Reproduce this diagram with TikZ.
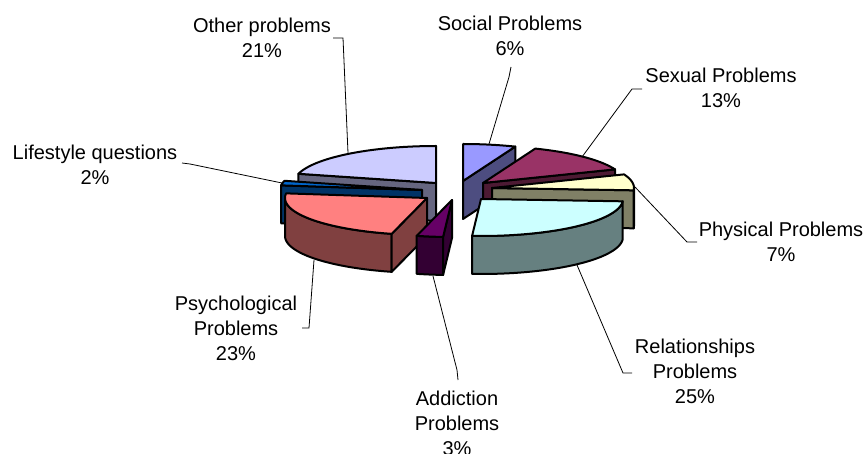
\documentclass[tikz,border=0pt]{standalone}
\usepackage{fontspec}
\setmainfont{Liberation Sans}
\definecolor{OtherTop}{HTML}{CCCCFF}\definecolor{OtherSide}{HTML}{666680}
\definecolor{LifeTop}{HTML}{0066CC}\definecolor{LifeSide}{HTML}{003366}
\definecolor{PsyTop}{HTML}{FF8080}\definecolor{PsySide}{HTML}{804040}
\definecolor{AddTop}{HTML}{660066}\definecolor{AddSide}{HTML}{330033}
\definecolor{SocTop}{HTML}{9999FF}\definecolor{SocSide}{HTML}{4D4D80}
\definecolor{SexTop}{HTML}{993366}\definecolor{SexSide}{HTML}{4D1A33}
\definecolor{PhyTop}{HTML}{FFFFCC}\definecolor{PhySide}{HTML}{808066}
\definecolor{RelTop}{HTML}{CCFFFF}\definecolor{RelSide}{HTML}{668080}
\newcommand\pieRx{142}
\newcommand\pieRy{37}
\newcommand\pieH{38}
% top face of a slice: centre x, centre y, start angle, end angle, colour
\newcommand\TopFace[5]{%
  \filldraw[pieface, fill=#5] (#1,#2) -- plot[domain=#3:#4, samples=60] ({#1+\pieRx*cos(\x)},{#2-\pieRy*sin(\x)}) -- cycle;}
% outer curved side
\newcommand\SideBand[5]{%
  \filldraw[pieface, fill=#5] plot[domain=#3:#4, samples=60] ({#1+\pieRx*cos(\x)},{#2-\pieRy*sin(\x)}) -- plot[domain=#4:#3, samples=60] ({#1+\pieRx*cos(\x)},{#2+\pieH-\pieRy*sin(\x)}) -- cycle;}
% radial cut face
\newcommand\CutFace[4]{%
  \filldraw[pieface, fill=#4] (#1,#2) -- ({#1+\pieRx*cos(#3)},{#2-\pieRy*sin(#3)}) -- ({#1+\pieRx*cos(#3)},{#2+\pieH-\pieRy*sin(#3)}) -- (#1,{#2+\pieH}) -- cycle;}
\tikzset{
  pieface/.style={line width=2pt, line join=round, draw=black},
  lead/.style={line width=0.8pt, draw=black},
  lbl/.style={align=center, inner sep=0pt, anchor=north, font=\fontsize{20}{25.3}\selectfont},
}
\begin{document}
\begin{tikzpicture}[x=1pt,y=-1pt]
\useasboundingbox (0,0) rectangle (868,454);
\clip (0,0) rectangle (868,454);
% Other problems
\CutFace{436}{183}{165.6}{OtherSide}
\TopFace{436}{183}{90}{165.6}{OtherTop}
% Lifestyle questions
\CutFace{422}{190}{172.8}{LifeSide}
\TopFace{422}{190}{165.6}{172.8}{LifeTop}
% Psychological
\SideBand{427}{198}{-180}{-104.4}{PsySide}
\CutFace{427}{198}{-104.4}{PsySide}
\TopFace{427}{198}{-187.2}{-104.4}{PsyTop}
% Addiction
\SideBand{452}{200}{-104.4}{-93.6}{AddSide}
\CutFace{452}{200}{-93.6}{AddSide}
\TopFace{452}{200}{-104.4}{-93.6}{AddTop}
% Social
\CutFace{463}{181}{68.4}{SocSide}
\TopFace{463}{181}{68.4}{90}{SocTop}
% Sexual
\CutFace{483}{183}{21.6}{SexSide}
\TopFace{483}{183}{21.6}{68.4}{SexTop}
% Physical
\SideBand{492}{188}{-3.6}{0}{PhySide}
\CutFace{492}{188}{-3.6}{PhySide}
\TopFace{492}{188}{-3.6}{21.6}{PhyTop}
% Relationships
\SideBand{481}{199}{-93.6}{-3.6}{RelSide}
\TopFace{481}{199}{-93.6}{-3.6}{RelTop}

% labels
\node[lbl] (lother) at (262,17.5) {Other problems\\21\%};
\node[lbl] (lsocial) at (510,15.5) {Social Problems\\6\%};
\node[lbl] (lsexual) at (721,68) {Sexual Problems\\13\%};
\node[lbl] (lphys) at (781,221.5) {Physical Problems\\7\%};
\node[lbl] (lrel) at (695,338.5) {Relationships\\Problems\\25\%};
\node[lbl] (ladd) at (457,390.5) {Addiction\\Problems\\3\%};
\node[lbl] (lpsy) at (236,295.5) {Psychological\\Problems\\23\%};
\node[lbl] (llife) at (95,144.5) {Lifestyle questions\\2\%};

% leader line points
\coordinate (pOther) at (348,153); \coordinate (kOther) at (343,38); \coordinate (tOther) at (333,38);
\coordinate (pSoc) at (489,144); \coordinate (kSoc) at (509,77); \coordinate (tSoc) at (511,67);
\coordinate (pSex) at (582,157); \coordinate (kSex) at (632,89); \coordinate (tSex) at (642,89);
\coordinate (pPhy) at (635,187); \coordinate (kPhy) at (687,242); \coordinate (tPhy) at (697,242);
\coordinate (pRel) at (577,265); \coordinate (kRel) at (623,373); \coordinate (tRel) at (632,373);
\coordinate (pAdd) at (433,276); \coordinate (kAdd) at (457,370); \coordinate (tAdd) at (458,380);
\coordinate (pPsy) at (314,260); \coordinate (kPsy) at (309,328); \coordinate (tPsy) at (302,328);
\coordinate (pLife) at (282,183); \coordinate (kLife) at (190,164); \coordinate (tLife) at (182,163);
\draw[lead] (pOther) -- (kOther) -- (tOther);
\draw[lead] (pSoc) -- (kSoc) -- (tSoc);
\draw[lead] (pSex) -- (kSex) -- (tSex);
\draw[lead] (pPhy) -- (kPhy) -- (tPhy);
\draw[lead] (pRel) -- (kRel) -- (tRel);
\draw[lead] (pAdd) -- (kAdd) -- (tAdd);
\draw[lead] (pPsy) -- (kPsy) -- (tPsy);
\draw[lead] (pLife) -- (kLife) -- (tLife);
\end{tikzpicture}
\end{document}
